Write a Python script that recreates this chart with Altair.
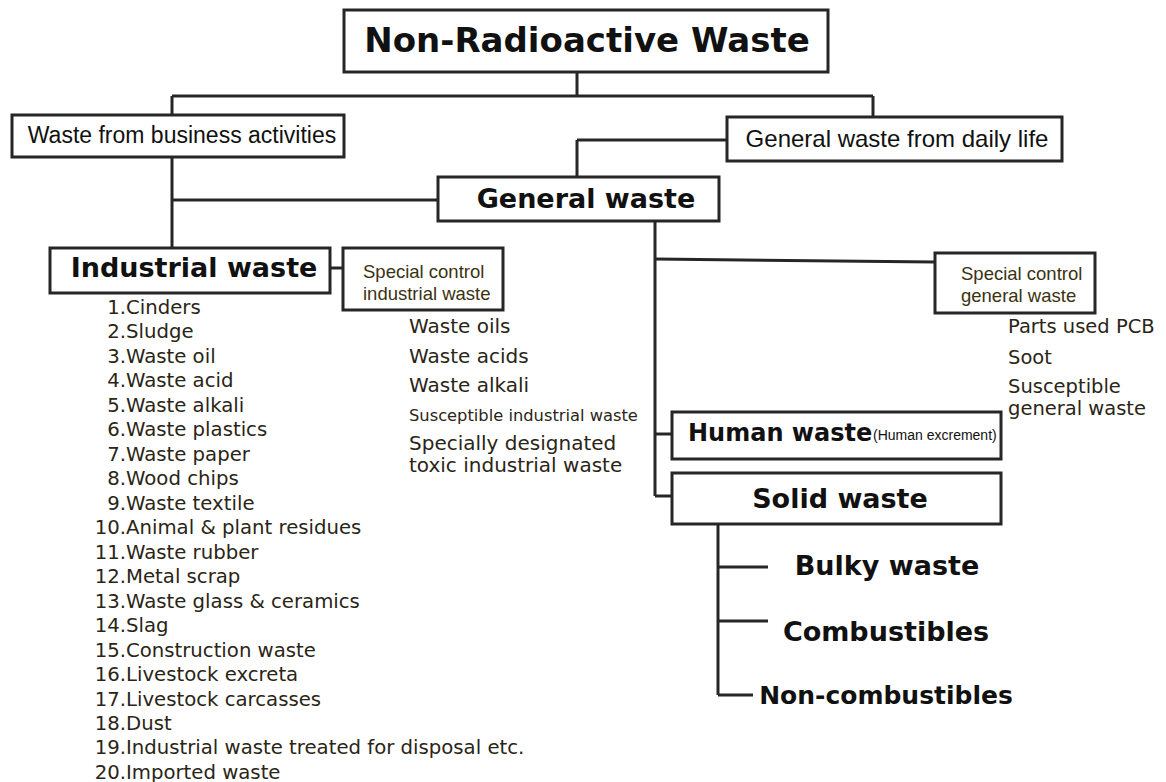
import altair as alt
import pandas as pd

# ---------------- content ----------------
root_label = "Non-Radioactive Waste"
source_labels = ["Waste from business activities", "General waste from daily life"]
main_labels = ["Industrial waste", "General waste"]
general_children = ["Human waste", "Solid waste"]
human_note = "(Human excrement)"
special_box_lines = [["Special control", "industrial waste"],
                     ["Special control", "general waste"]]
industrial_items = ["Cinders", "Sludge", "Waste oil", "Waste acid", "Waste alkali",
                    "Waste plastics", "Waste paper", "Wood chips", "Waste textile",
                    "Animal & plant residues", "Waste rubber", "Metal scrap",
                    "Waste glass & ceramics", "Slag", "Construction waste",
                    "Livestock excreta", "Livestock carcasses", "Dust",
                    "Industrial waste treated for disposal etc.", "Imported waste"]
special_industrial_items = ["Waste oils", "Waste acids", "Waste alkali",
                            "Susceptible industrial waste",
                            "Specially designated", "toxic industrial waste"]
special_general_items = ["Parts used PCB", "Soot", "Susceptible", "general waste"]
solid_subtypes = ["Bulky waste", "Combustibles", "Non-combustibles"]

# ---------------- layout (page pixels) ----------------
box_x1 = [344, 12, 727, 438, 50, 343, 935, 672, 672]
box_y1 = [10, 115, 117, 177, 248, 248, 253, 412, 473]
box_x2 = [828, 344, 1062, 719, 330, 503, 1095, 1001, 1001]
box_y2 = [72, 157, 161, 221, 293, 310, 313, 459, 524]

seg_x1 = [577, 172, 172, 873, 172, 172, 577, 577, 330, 655, 655, 655, 655, 718, 718, 718, 718]
seg_y1 = [72, 96, 96, 96, 157, 200, 140, 140, 268, 221, 259, 434, 496, 524, 567, 621, 695]
seg_x2 = [577, 873, 172, 873, 172, 438, 577, 727, 343, 655, 935, 672, 672, 718, 768, 768, 753]
seg_y2 = [96, 96, 115, 117, 248, 200, 177, 140, 268, 496, 262, 434, 496, 695, 567, 621, 695]

bold_pos_x = [587, 194, 586, 840, 887, 886, 886]
bold_pos_y = [42, 269, 200, 500, 567, 633, 696]
bold_size = [34, 27, 27, 27, 27, 27, 25]

X0, X1, Y0, Y1 = 8, 1158, 8, 774
xs = alt.Scale(domain=[X0, X1], nice=False, zero=False)
ys = alt.Scale(domain=[Y0, Y1], nice=False, zero=False, reverse=True)
X = lambda f: alt.X(f"{f}:Q", scale=xs, axis=None)
Y = lambda f: alt.Y(f"{f}:Q", scale=ys, axis=None)

LINE = "#262626"
INK = "#111111"
GOLD = "#3b3210"
ITEM = "#2a2516"
SANS = "Liberation Sans, Arial, sans-serif"
WIDE = "DejaVu Sans, Verdana, sans-serif"

boxes = pd.DataFrame({"x": box_x1, "y": box_y1, "x2": box_x2, "y2": box_y2})
segs = pd.DataFrame({"x": seg_x1, "y": seg_y1, "x2": seg_x2, "y2": seg_y2})

box_layer = alt.Chart(boxes).mark_rect(fill="white", stroke=LINE, strokeWidth=3).encode(
    x=X("x"), x2="x2", y=Y("y"), y2="y2")
seg_layer = alt.Chart(segs).mark_rule(color=LINE, strokeWidth=3).encode(
    x=X("x"), x2="x2", y=Y("y"), y2="y2")

bold_labels = [root_label, main_labels[0], main_labels[1], general_children[1]] + solid_subtypes
bold_df = pd.DataFrame({"label": bold_labels, "x": bold_pos_x, "y": bold_pos_y, "size": bold_size})
bold_layer = alt.Chart(bold_df).mark_text(font=WIDE, fontWeight="bold", color=INK,
                                          align="center", baseline="middle").encode(
    x=X("x"), y=Y("y"), text="label:N", size=alt.Size("size:Q", scale=None, legend=None))

human_df = pd.DataFrame({"label": [general_children[0]], "x": [688], "y": [434]})
human_layer = alt.Chart(human_df).mark_text(font=WIDE, fontWeight="bold", color=INK,
                                            fontSize=24, align="left", baseline="middle").encode(
    x=X("x"), y=Y("y"), text="label:N")

narrow_df = pd.DataFrame({"label": source_labels, "x": [182, 897], "y": [136, 140],
                          "size": [23, 24]})
narrow_layer = alt.Chart(narrow_df).mark_text(font=SANS, color=INK,
                                              align="center", baseline="middle").encode(
    x=X("x"), y=Y("y"), text="label:N", size=alt.Size("size:Q", scale=None, legend=None))

note_df = pd.DataFrame({"label": [human_note], "x": [873], "y": [436]})
note_layer = alt.Chart(note_df).mark_text(font=SANS, fontSize=14, color=INK,
                                          align="left", baseline="middle").encode(
    x=X("x"), y=Y("y"), text="label:N")

sp_rows = []
for (lx, ly0), lines in zip([(363, 272), (961, 274)], special_box_lines):
    for i, t in enumerate(lines):
        sp_rows.append({"label": t, "x": lx, "y": ly0 + 22 * i})
sp_df = pd.DataFrame(sp_rows)
sp_layer = alt.Chart(sp_df).mark_text(font=SANS, fontSize=18.5, color=GOLD,
                                      align="left", baseline="middle").encode(
    x=X("x"), y=Y("y"), text="label:N")

si_y = [327, 357, 386, 416, 444, 466]
si_size = [20, 20, 20, 16.3, 20, 20]
sg_y = [327, 358, 387, 409]
list_df = pd.DataFrame({
    "label": special_industrial_items + special_general_items,
    "x": [409] * len(special_industrial_items) + [1008] * len(special_general_items),
    "y": si_y + sg_y,
    "size": si_size + [19.5] * len(special_general_items)})
list_layer = alt.Chart(list_df).mark_text(font=WIDE, color=ITEM,
                                          align="left", baseline="middle").encode(
    x=X("x"), y=Y("y"), text="label:N", size=alt.Size("size:Q", scale=None, legend=None))

ind_df = pd.DataFrame({
    "num": [f"{i + 1}." for i in range(len(industrial_items))],
    "label": industrial_items,
    "y": [308 + 24.47 * i for i in range(len(industrial_items))]})
ind_df["x"] = 126
num_layer = alt.Chart(ind_df).mark_text(font=WIDE, fontSize=19.7, color=ITEM,
                                        align="right", baseline="middle").encode(
    x=X("x"), y=Y("y"), text="num:N")
name_layer = alt.Chart(ind_df).mark_text(font=WIDE, fontSize=19.7, color=ITEM,
                                         align="left", baseline="middle").encode(
    x=X("x"), y=Y("y"), text="label:N")

chart = alt.layer(seg_layer, box_layer, bold_layer, human_layer, narrow_layer, note_layer,
                  sp_layer, list_layer, num_layer, name_layer).properties(
    width=X1 - X0, height=Y1 - Y0, padding=0, background="white"
).configure_view(stroke=None)

chart.save("out.html", embed_options={"renderer": "svg", "actions": False})
